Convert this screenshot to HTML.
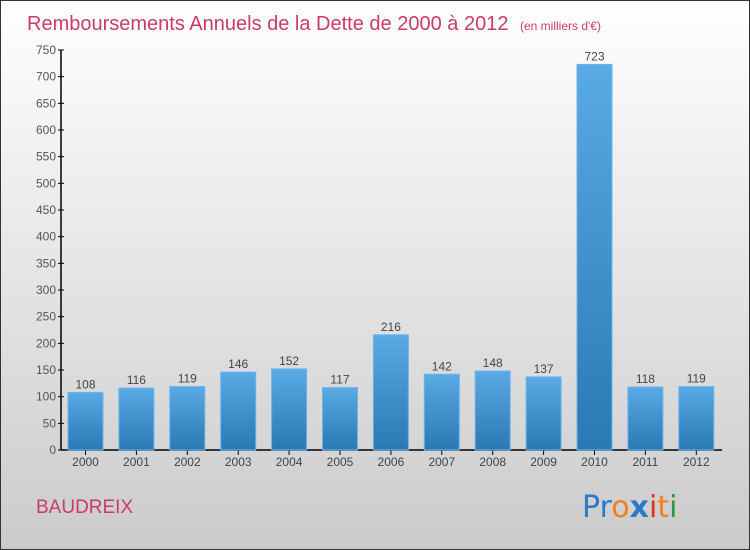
<!DOCTYPE html>
<html><head><meta charset="utf-8"><style>
body{margin:0}
#c{width:750px;height:550px;position:relative;overflow:hidden;font-family:"Liberation Sans",sans-serif}
</style></head><body>
<div id="c">
<svg width="750" height="550" xmlns="http://www.w3.org/2000/svg">
<defs>
<linearGradient id="bg" x1="0" y1="0" x2="0" y2="1"><stop offset="0" stop-color="#ffffff"/><stop offset="1" stop-color="#cbcbcb"/></linearGradient>
<linearGradient id="bar" x1="0" y1="0" x2="0" y2="1"><stop offset="0" stop-color="#5aaae6"/><stop offset="1" stop-color="#2a78b4"/></linearGradient>
</defs>
<rect x="0.5" y="0.5" width="749" height="549" fill="url(#bg)" stroke="#333"/>
<text x="27" y="30" font-size="20" fill="#cc3a66">Remboursements Annuels de la Dette de 2000 à 2012 <tspan font-size="12" dx="6">(en milliers d'€)</tspan></text>
<g id="axes"></g>
<g id="bars"></g>
<text x="36" y="513" font-size="19" fill="#cc3a66">BAUDREIX</text>
<text x="582" y="517" font-size="30" font-family="'DejaVu Sans',sans-serif"><tspan fill="#2a7ac8">Pr</tspan><tspan fill="#f08020">o</tspan><tspan fill="#2a7ac8" font-weight="bold">x</tspan><tspan fill="#e83020">i</tspan><tspan fill="#f08020">t</tspan><tspan fill="#2a9a40">i</tspan></text>
</svg>
</div>
<script>
const categories=["2000","2001","2002","2003","2004","2005","2006","2007","2008","2009","2010","2011","2012"];
const values=[108,116,119,146,152,117,216,142,148,137,723,118,119];
const ticks=[0,50,100,150,200,250,300,350,400,450,500,550,600,650,700,750];
const NS="http://www.w3.org/2000/svg";
const y=v=>450-v*400/750;
const x=i=>85.5+i*50.9;
function mk(t,a,p){const e=document.createElementNS(NS,t);for(const k in a)e.setAttribute(k,a[k]);p.appendChild(e);return e;}
const ax=document.getElementById('axes'),bg=document.getElementById('bars');
const yl=mk('line',{x1:61,y1:y(750),x2:61,y2:450,stroke:'#000','stroke-width':1.5},ax);


const xl=mk('line',{x1:61,y1:450,x2:722,y2:450,stroke:'#000','stroke-width':1.5},ax);


ticks.forEach(t=>{
 mk('line',{x1:58,y1:y(t),x2:64,y2:y(t),stroke:'#000'},ax);
 const tx=mk('text',{x:56,y:y(t)+4,'font-size':12,'text-anchor':'end',fill:'#555'},ax);
 tx.textContent=t;
 
 
});
categories.forEach((c,i)=>{
 const r=mk('rect',{x:x(i)-17.5,y:y(values[i]),width:35,height:450-y(values[i]),fill:'url(#bar)',stroke:'#6ab4ec','stroke-width':1},bg);
 
 
 mk('line',{x1:x(i),y1:450,x2:x(i),y2:455,stroke:'#000'},ax);
 const lb=mk('text',{x:x(i),y:466,'font-size':12,'text-anchor':'middle',fill:'#444'},ax);
 lb.textContent=c;
 
 
 const vl=mk('text',{x:x(i),y:y(values[i])-4,'font-size':12,'text-anchor':'middle',fill:'#444'},bg);
 vl.textContent=values[i];
 
 
});
</script>
</body></html>
